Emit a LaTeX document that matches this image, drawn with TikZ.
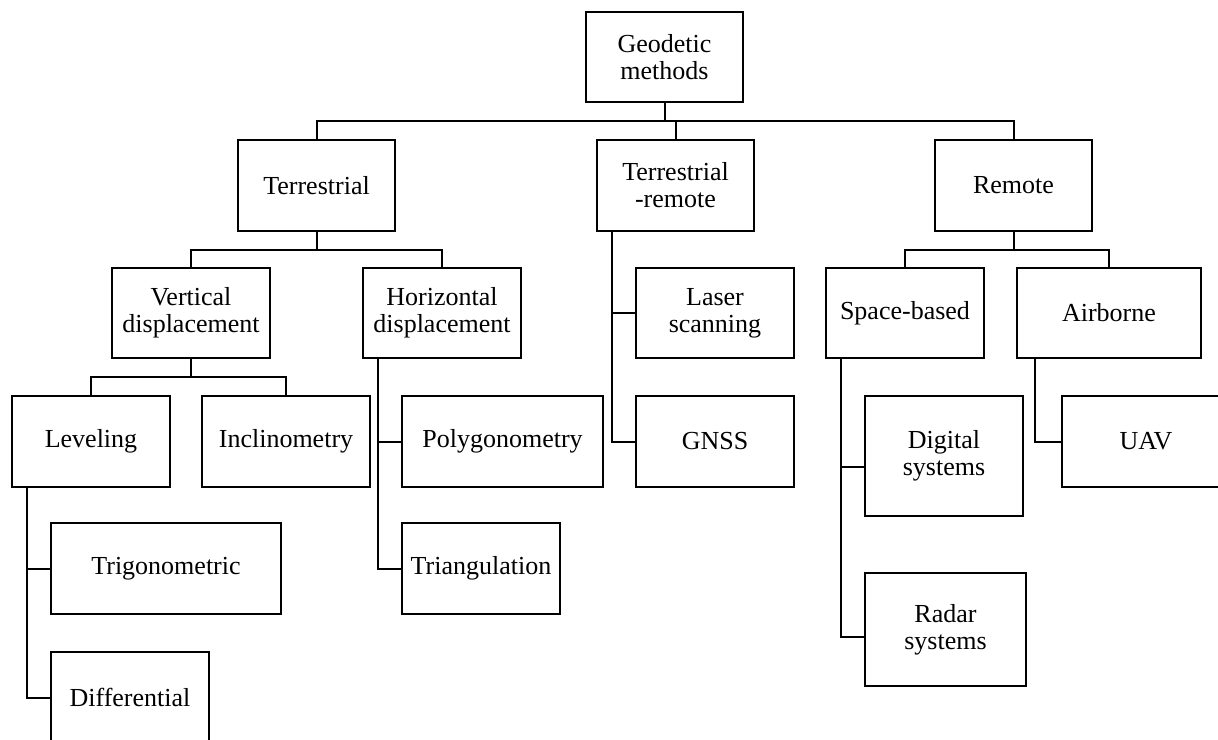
\documentclass[tikz,border=0pt]{standalone}
\usepackage{fontspec}
\setmainfont{Liberation Serif}
\begin{document}
\begin{tikzpicture}[x=1pt,y=-1pt,
  box/.style={draw, line width=2pt, align=center, inner sep=0pt,
    font=\fontsize{26}{27}\selectfont, minimum height=91pt},
  link/.style={line width=2pt}]
\useasboundingbox (0,0) rectangle (1218,739);
% level 0
\node[box, minimum width=157pt, minimum height=90pt] (geo) at (664.5,57) {Geodetic\\methods};
% level 1
\node[box, minimum width=157pt] (terr) at (316.5,185.5) {Terrestrial};
\node[box, minimum width=157pt] (tr) at (675.5,185.5) {Terrestrial\\-remote};
\node[box, minimum width=157pt] (rem) at (1013.5,185.5) {Remote};
% level 2
\node[box, minimum width=158pt, minimum height=90pt] (vd) at (191,313) {Vertical\\displacement};
\node[box, minimum width=158pt, minimum height=90pt] (hd) at (442,313) {Horizontal\\displacement};
\node[box, minimum width=158pt, minimum height=90pt] (ls) at (715,313) {Laser\\scanning};
\node[box, minimum width=158pt, minimum height=90pt] (sb) at (905,313) {Space-based};
\node[box, minimum width=184pt, minimum height=90pt] (air) at (1109,313) {Airborne};
% level 3
\node[box, minimum width=158pt] (lev) at (91,441.5) {Leveling};
\node[box, minimum width=168pt] (inc) at (286,441.5) {Inclinometry};
\node[box, minimum width=201pt] (pol) at (502.5,441.5) {Polygonometry};
\node[box, minimum width=158pt] (gnss) at (715,441.5) {GNSS};
\node[box, minimum width=158pt, minimum height=120pt] (dig) at (944,456) {Digital\\systems};
\node[box, minimum width=168pt] (uav) at (1146,441.5) {UAV};
% level 4
\node[box, minimum width=230pt] (trig) at (166,568.5) {Trigonometric};
\node[box, minimum width=158pt] (tri) at (481,568.5) {Triangulation};
\node[box, minimum width=161pt, minimum height=113pt] (radar) at (945.5,629.5) {Radar\\systems};
\node[box, minimum width=158pt] (diff) at (130,697.5) {Differential};
% buses
\coordinate (bus0) at (0,121);
\coordinate (bus1) at (0,250);
\coordinate (bus2) at (0,377);
\draw[link] (geo.south) -- (geo.south |- bus0);
\draw[link] (terr.north) -- (terr.north |- bus0) -- (rem.north |- bus0) -- (rem.north);
\draw[link] (tr.north) -- (tr.north |- bus0);
\draw[link] (terr.south) -- (terr.south |- bus1);
\draw[link] (vd.north) -- (vd.north |- bus1) -- (hd.north |- bus1) -- (hd.north);
\draw[link] (vd.south) -- (vd.south |- bus2);
\draw[link] (lev.north) -- (lev.north |- bus2) -- (inc.north |- bus2) -- (inc.north);
\draw[link] (rem.south) -- (rem.south |- bus1);
\draw[link] (sb.north) -- (sb.north |- bus1) -- (air.north |- bus1) -- (air.north);
% trunks
\draw[link] ([xshift=16pt]lev.south west) |- (trig.west);
\draw[link] ([xshift=16pt]lev.south west) |- (diff.west);
\draw[link] ([xshift=16pt]hd.south west) |- (pol.west);
\draw[link] ([xshift=16pt]hd.south west) |- (tri.west);
\draw[link] ([xshift=16pt]tr.south west) |- (ls.west);
\draw[link] ([xshift=16pt]tr.south west) |- (gnss.west);
\draw[link] ([xshift=16pt]sb.south west) |- ([yshift=-11pt]dig.west);
\draw[link] ([xshift=16pt]sb.south west) |- ([yshift=-7.5pt]radar.west);
\draw[link] ([xshift=19pt]air.south west) |- (uav.west);
\end{tikzpicture}
\end{document}
